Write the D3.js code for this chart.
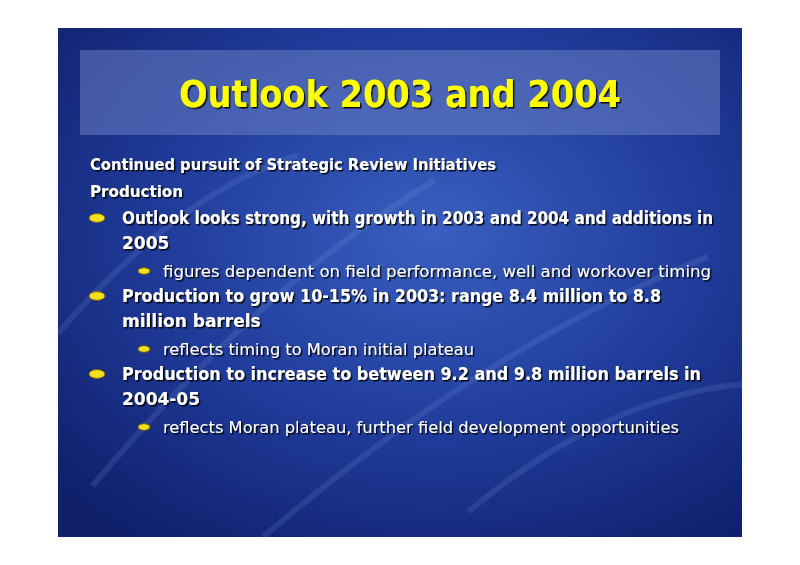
<!DOCTYPE html>
<html><head><meta charset="utf-8">
<script src="https://cdn.jsdelivr.net/npm/d3@7"></script>
<style>body{margin:0;background:#fff}svg{display:block}</style>
</head><body>
<script>
const title = "Outlook 2003 and 2004";
const headings = ["Continued pursuit of Strategic Review Initiatives", "Production"];
const bullets = [
  {lines:["Outlook looks strong, with growth in 2003 and 2004 and additions in","2005"], sub:"figures dependent on field performance, well and workover timing"},
  {lines:["Production to grow 10-15% in 2003:  range 8.4 million to 8.8","million barrels"], sub:"reflects timing to Moran initial plateau"},
  {lines:["Production to increase to between 9.2 and 9.8 million barrels in","2004-05"], sub:"reflects Moran plateau, further field development opportunities"}
];
const W=800,H=565;
const svg=d3.select("body").append("svg").attr("width",W).attr("height",H);
const defs=svg.append("defs");
const g1=defs.append("radialGradient").attr("id","bg").attr("cx","55%").attr("cy","40%").attr("r","75%");
g1.append("stop").attr("offset","0%").attr("stop-color","#3a5fc0");
g1.append("stop").attr("offset","55%").attr("stop-color","#1f3a98");
g1.append("stop").attr("offset","100%").attr("stop-color","#0f1f6a");
const f=defs.append("filter").attr("id","sh");
f.append("feDropShadow").attr("dx",1.5).attr("dy",1.5).attr("stdDeviation",0.6).attr("flood-color","#000").attr("flood-opacity",0.9);
const sx=d3.scaleLinear().domain([0,1]).range([58,742]);
const sy=d3.scaleLinear().domain([0,1]).range([28,537]);
svg.append("rect").attr("x",sx(0)).attr("y",sy(0)).attr("width",sx(1)-sx(0)).attr("height",sy(1)-sy(0)).attr("fill","url(#bg)");
const streaks=[[0.05,0.9,0.55,0.3],[0.3,1,0.95,0.45],[0.6,0.95,1,0.7],[0.0,0.6,0.35,0.25]];
svg.selectAll("path.s").data(streaks).join("path").attr("d",d=>`M${sx(d[0])},${sy(d[1])}Q${sx((d[0]+d[2])/2)},${sy((d[1]+d[3])/2-0.1)} ${sx(d[2])},${sy(d[3])}`)
 .attr("fill","none").attr("stroke","#8fb0f0").attr("stroke-opacity",0.15).attr("stroke-width",6);
svg.append("rect").attr("x",80).attr("y",50).attr("width",640).attr("height",85).attr("fill","#6a7fc4").attr("fill-opacity",0.55);
svg.append("text").attr("x",400).attr("y",107).attr("text-anchor","middle").attr("font-family","DejaVu Sans").attr("font-weight","bold").attr("font-size",38)
 .attr("fill","#ffff00").attr("filter","url(#sh)").attr("textLength",442).attr("lengthAdjust","spacingAndGlyphs").text(title);
const txt=(x,y,s,size,len,w)=>{const t=svg.append("text").attr("x",x).attr("y",y).attr("font-family","DejaVu Sans").attr("font-weight",w||"bold")
 .attr("font-size",size).attr("fill","#fff").attr("filter","url(#sh)").text(s); if(len) t.attr("textLength",len).attr("lengthAdjust","spacingAndGlyphs");};
txt(90,170,headings[0],16,406);
txt(90,197,headings[1],16,93);
const dot=(x,y,rx)=>svg.append("ellipse").attr("cx",x).attr("cy",y).attr("rx",rx).attr("ry",rx*0.55).attr("fill","#f0e020").attr("stroke","#806000").attr("stroke-width",1);
const lens=[591,539,579];
const subLens=[548,311,516];
let y=224;
bullets.forEach((b,i)=>{
  dot(97,y-6,8);
  txt(122,y,b.lines[0],17,lens[i]);
  txt(122,y+25,b.lines[1],17);
  dot(144,y+47,6);
  txt(163,y+53,b.sub,15,subLens[i],"normal");
  y+=78;
});
</script>
</body></html>
